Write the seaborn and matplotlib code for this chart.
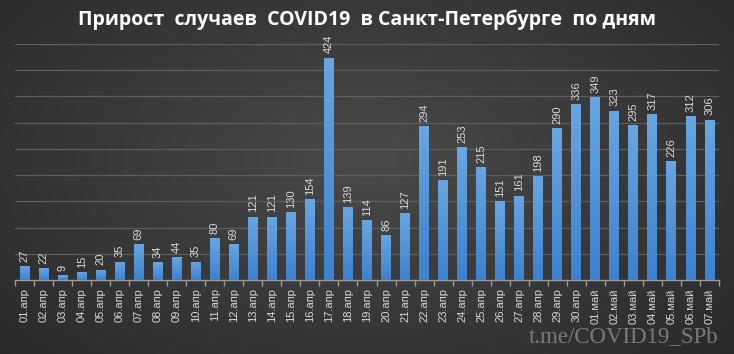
import numpy as np
import pandas as pd
import matplotlib
matplotlib.use("Agg")
import matplotlib.pyplot as plt
import seaborn as sns
from matplotlib.colors import LinearSegmentedColormap

dates = ["01.апр", "02.апр", "03.апр", "04.апр", "05.апр", "06.апр", "07.апр", "08.апр",
         "09.апр", "10.апр", "11.апр", "12.апр", "13.апр", "14.апр", "15.апр", "16.апр",
         "17.апр", "18.апр", "19.апр", "20.апр", "21.апр", "22.апр", "23.апр", "24.апр",
         "25.апр", "26.апр", "27.апр", "28.апр", "29.апр", "30.апр",
         "01.май", "02.май", "03.май", "04.май", "05.май", "06.май", "07.май"]
cases = [27, 22, 9, 15, 20, 35, 69, 34, 44, 35, 80, 69, 121, 121, 130, 154, 424, 139,
         114, 86, 127, 294, 191, 253, 215, 151, 161, 198, 290, 336, 349, 323, 295, 317,
         226, 312, 306]
title = "Прирост  случаев  COVID19  в Санкт-Петербурге  по дням"
watermark = "t.me/COVID19_SPb"

df = pd.DataFrame({"date": dates, "cases": cases})

sns.set_theme(style="dark")
plt.rcParams["font.family"] = ["Liberation Sans", "DejaVu Sans"]

fig = plt.figure(figsize=(7.34, 3.54), dpi=100)

# radial gradient background
bg = fig.add_axes([0, 0, 1, 1])
yy, xx = np.mgrid[0:1:200j, 0:1:400j]
r = np.sqrt(((xx - 0.5) / 0.75) ** 2 + ((yy - 0.55) / 0.9) ** 2)
r = np.clip(r, 0, 1)
c0 = np.array([0x4a, 0x4a, 0x4a]) / 255
c1 = np.array([0x26, 0x26, 0x26]) / 255
img = c0[None, None, :] * (1 - r[..., None]) + c1[None, None, :] * r[..., None]
bg.imshow(img, aspect="auto", extent=[0, 1, 0, 1], origin="lower")
bg.set_axis_off()

ax = fig.add_axes([15 / 734, 74 / 354, 704 / 734, 236 / 354])
ax.patch.set_alpha(0)
sns.barplot(data=df, x="date", y="cases", color="#4a8fd8", width=0.52, ax=ax,
            saturation=1, linewidth=0, zorder=3)

# gradient fill on bars
grad = np.linspace(0, 1, 100).reshape(-1, 1)
cmap = LinearSegmentedColormap.from_list("bar", ["#3d82cf", "#68a6e2"])
for p in ax.patches:
    x0, y0 = p.get_x(), p.get_y()
    w, h = p.get_width(), p.get_height()
    im = ax.imshow(grad, cmap=cmap, extent=[x0, x0 + w, y0, y0 + h], origin="lower",
                   aspect="auto", zorder=4)
    im.set_clip_path(p)

ax.bar_label(ax.containers[0], labels=[str(v) for v in cases], rotation=90,
             padding=3, color="#d8d8d8", fontsize=8, zorder=5)

ax.set_xlim(-0.5, len(dates) - 0.5)
ax.set_ylim(0, 450)
ax.set_yticks(np.arange(50, 451, 50))
ax.set_yticklabels([])
ax.tick_params(axis="y", length=0)
ax.grid(axis="y", color="#5e5e5e", linewidth=0.9, zorder=0)
ax.grid(axis="x", visible=False)
for s in ["top", "right", "left"]:
    ax.spines[s].set_visible(False)
ax.spines["bottom"].set_color("#9a9a9a")
ax.spines["bottom"].set_linewidth(1)

ax.set_xticks(np.arange(len(dates)))
ax.set_xticklabels(dates, rotation=90, color="#d8d8d8", fontsize=8)
ax.set_xticks(np.arange(len(dates) + 1) - 0.5, minor=True)
ax.tick_params(axis="x", which="major", length=0, pad=6)
ax.tick_params(axis="x", which="minor", length=4, color="#9a9a9a", width=1, bottom=True)
ax.set_xlabel("")
ax.set_ylabel("")

fig.text(0.5, 1 - 20 / 354, title, ha="center", va="center", color="white",
         fontsize=14, fontweight="bold", family=["Open Sans", "DejaVu Sans"])
fig.text(718 / 734, 1 - 337 / 354, watermark, ha="right", va="center", color="#7a7a7a",
         fontsize=16.5, family=["Liberation Serif", "DejaVu Serif"])

fig.savefig("out.png", dpi=100, facecolor="#333333")
